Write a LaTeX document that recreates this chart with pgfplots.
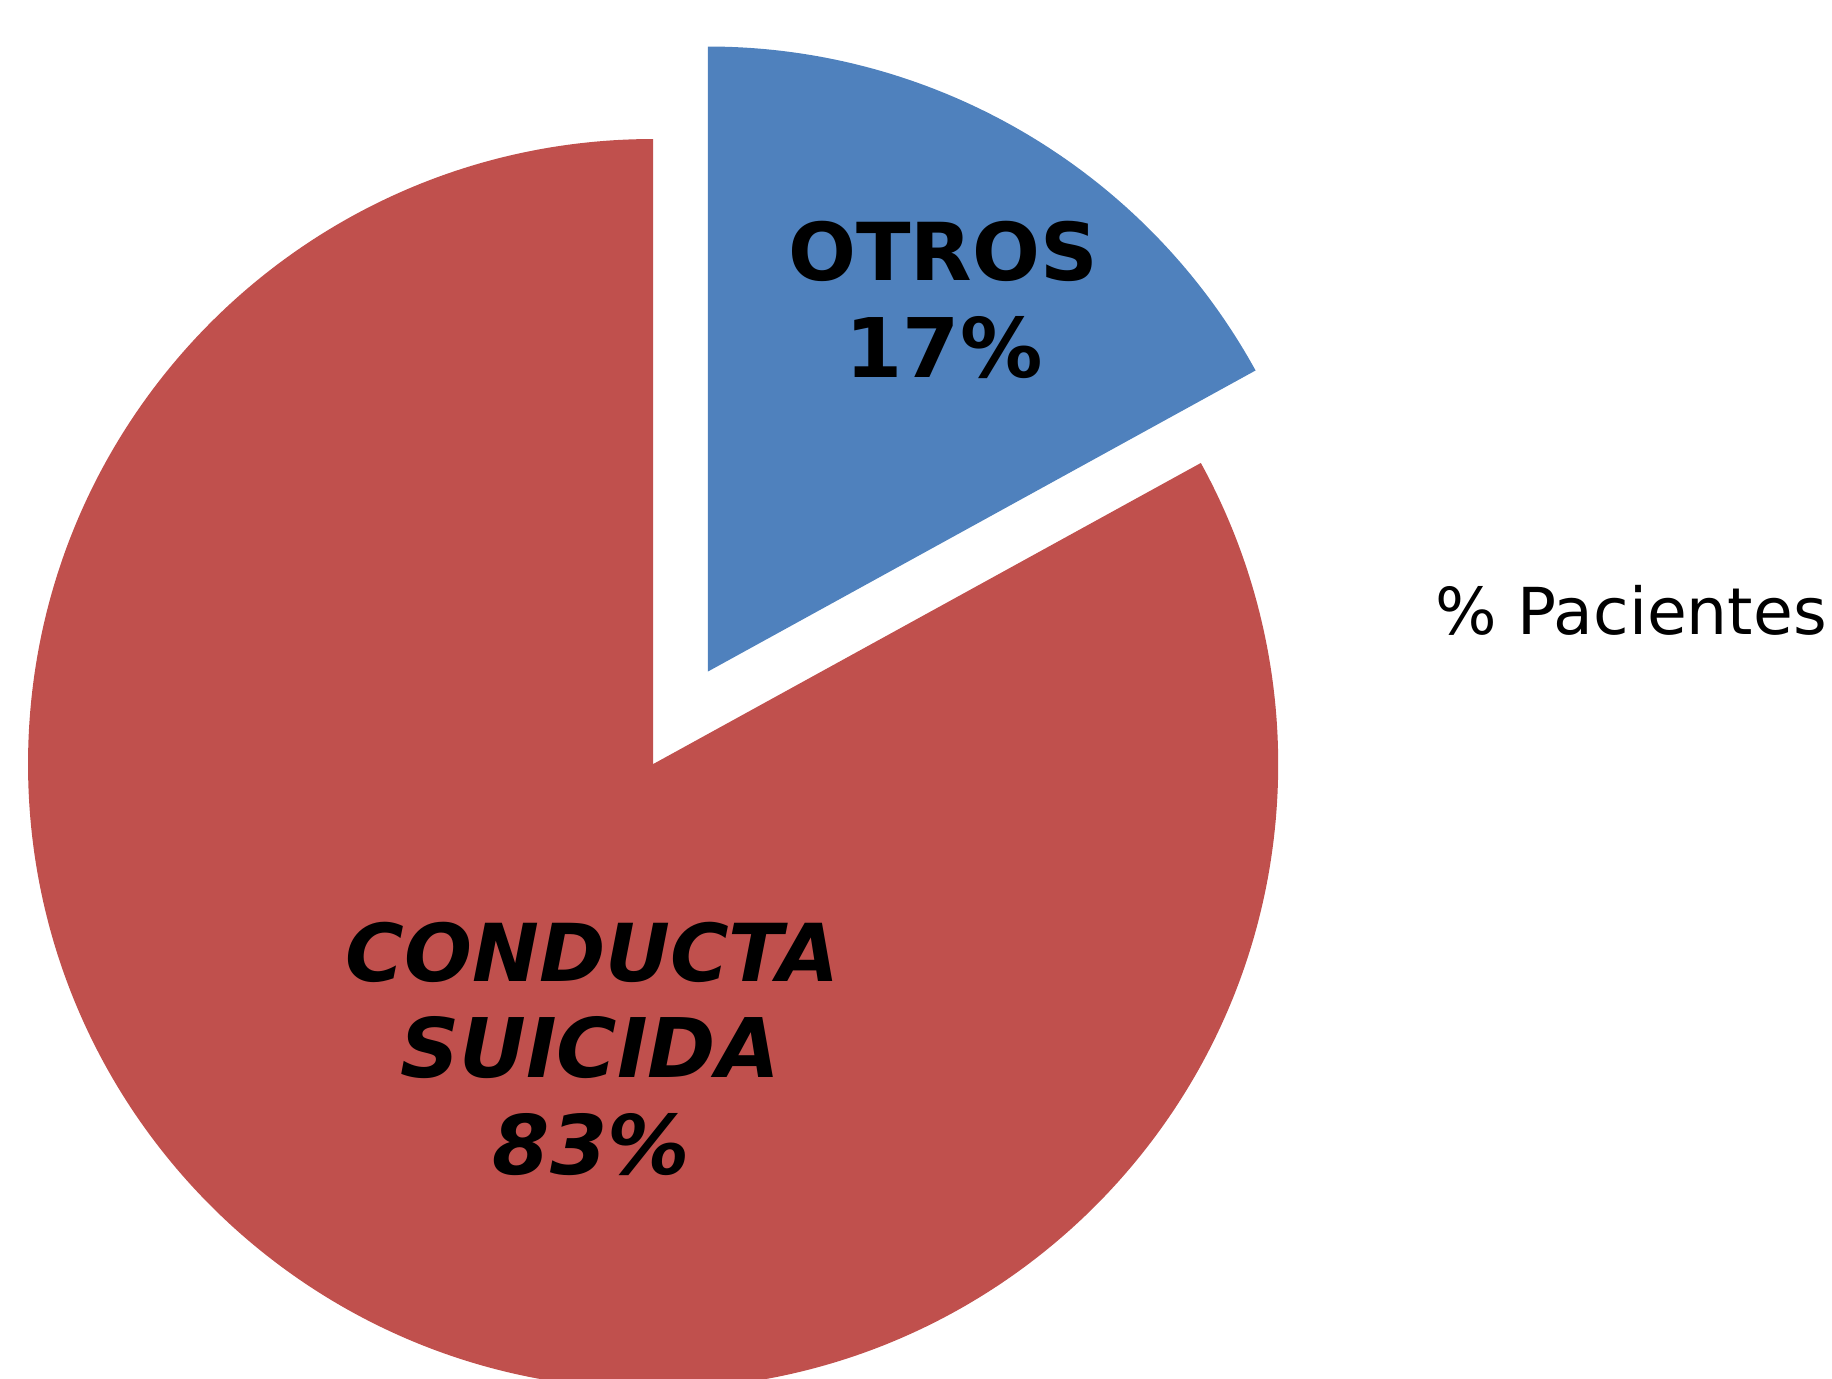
\documentclass[border=0pt]{standalone}
\usepackage{pgfplots}
\pgfplotsset{compat=1.18}
\usepackage{pgfplotstable}
\usepackage{fontspec}
\setmainfont{DejaVu Sans}
\definecolor{pieRed}{HTML}{C0504D}
\definecolor{pieBlue}{HTML}{4F81BD}
\pgfplotstableread{
label value
OTROS 17
CONDUCTA 83
}\piedata
\begin{document}
\begin{tikzpicture}
\pgfplotstablegetelem{0}{value}\of\piedata
\pgfmathsetmacro{\vOtros}{\pgfplotsretval}
\pgfplotstablegetelem{1}{value}\of\piedata
\pgfmathsetmacro{\vCond}{\pgfplotsretval}
\pgfmathsetmacro{\total}{\vOtros+\vCond}
\pgfmathsetmacro{\aSplit}{90-360*\vOtros/\total}
\pgfmathsetmacro{\aEnd}{\aSplit+360}
\pgfmathsetmacro{\aMid}{90-180*\vOtros/\total}
\pgfmathsetmacro{\ex}{92*cos(\aMid)}
\pgfmathsetmacro{\ey}{92*sin(\aMid)}
\def\R{535}
\begin{axis}[scale only axis, width=392pt, height=295pt,
  xmin=-559, xmax=1009, ymin=-526, ymax=654, hide axis, clip=true]
\fill[pieRed] (axis cs:0,0) -- (axis cs:0,\R) arc[start angle=90, end angle=\aEnd, radius=133.75pt] -- cycle;
\fill[pieBlue] (axis cs:\ex,\ey) -- (axis cs:\ex,{\ey+\R}) arc[start angle=90, end angle=\aSplit, radius=133.75pt] -- cycle;
\node[anchor=base, font=\bfseries\fontsize{17.1}{20.75}\selectfont] at (axis cs:248,414) {OTROS};
\node[anchor=base, font=\bfseries\fontsize{17.6}{20.75}\selectfont] at (axis cs:249,331) {17\%};
\node[anchor=base, font=\bfseries\itshape\fontsize{17.1}{20.75}\selectfont] at (axis cs:-52,-186) {CONDUCTA};
\node[anchor=base, font=\bfseries\itshape\fontsize{17.6}{20.75}\selectfont] at (axis cs:-54,-268) {SUICIDA};
\node[anchor=base, font=\bfseries\itshape\fontsize{17.6}{20.75}\selectfont] at (axis cs:-53,-351) {83\%};
\node[anchor=base west, inner sep=0pt, font=\fontsize{13.85}{16}\selectfont] at (axis cs:669,111) {\% Pacientes};
\end{axis}
\pgfresetboundingbox
\path[use as bounding box] (current axis.south west) rectangle (current axis.north east);
\end{tikzpicture}
\end{document}
